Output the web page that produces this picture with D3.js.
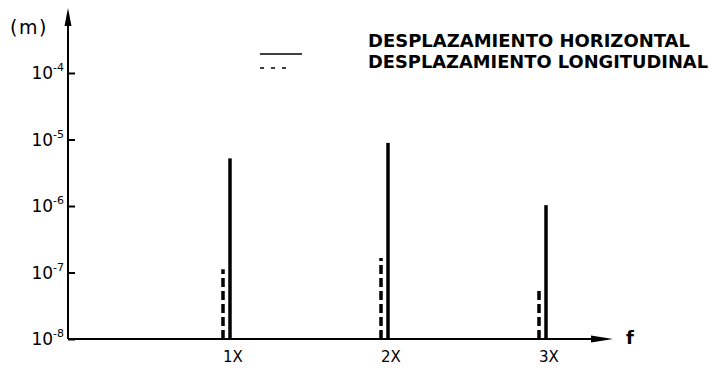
<!DOCTYPE html>
<html>
<head>
<meta charset="utf-8">
<script src="https://cdn.jsdelivr.net/npm/d3@7"></script>
<style>
  html, body { margin: 0; padding: 0; background: #fff; }
  svg { display: block; }
  text { font-family: "DejaVu Sans", "Liberation Sans", sans-serif; fill: #000; }
</style>
</head>
<body>
<svg id="chart" width="714" height="371"></svg>
<script>
// ---- data ----
const categories = ["1X", "2X", "3X"];
const harmonics = [1, 2, 3];
const horizontal = [5.2e-6, 8.9e-6, 1.03e-6];     // solid
const longitudinal = [1.12e-7, 1.65e-7, 5.5e-8];   // dashed
const tickValues = [1e-8, 1e-7, 1e-6, 1e-5, 1e-4];
const tickExponents = ["-8", "-7", "-6", "-5", "-4"];
const legendLabels = ["DESPLAZAMIENTO HORIZONTAL", "DESPLAZAMIENTO LONGITUDINAL"];
const yUnit = "(m)";
const xUnit = "f";

// ---- layout ----
const svg = d3.select("#chart");
const axisX0 = 68, axisXEnd = 613, axisYTop = 8;
const y = d3.scaleLog().domain([1e-8, 1e-4]).range([339, 73]);
const x = d3.scaleLinear().domain([0, 3]).range([72, 546]);
const y0 = y(1e-8);

// axes lines
svg.append("line").attr("x1", axisX0).attr("x2", axisX0)
  .attr("y1", y0).attr("y2", axisYTop + 10)
  .attr("stroke", "#000").attr("stroke-width", 2);
svg.append("path")
  .attr("d", `M${axisX0},${axisYTop} L${axisX0 - 3.5},${axisYTop + 18} L${axisX0 + 3.5},${axisYTop + 18} Z`)
  .attr("fill", "#000");
svg.append("line").attr("x1", axisX0).attr("x2", axisXEnd - 18)
  .attr("y1", y0).attr("y2", y0)
  .attr("stroke", "#000").attr("stroke-width", 2);
svg.append("path")
  .attr("d", `M${axisXEnd},${y0} L${axisXEnd - 22},${y0 - 3.5} L${axisXEnd - 22},${y0 + 3.5} Z`)
  .attr("fill", "#000");

// y ticks (inward)
const yAxis = d3.axisRight(y).tickValues(tickValues).tickSize(7).tickFormat("");
const gy = svg.append("g").attr("transform", `translate(${axisX0},0)`).call(yAxis);
gy.select(".domain").remove();
gy.selectAll(".tick line").attr("stroke", "#000").attr("stroke-width", 2);

// y tick labels with superscripts
tickValues.forEach((v, i) => {
  const t = svg.append("text")
    .attr("x", 64).attr("y", y(v) + 6)
    .attr("text-anchor", "end")
    .attr("font-size", 17);
  t.append("tspan").text("10");
  t.append("tspan").attr("font-size", 11).attr("dy", -8).text(tickExponents[i]);
});

// unit labels
svg.append("text").attr("x", 10).attr("y", 34).attr("font-size", 19)
  .attr("letter-spacing", 1.5).text(yUnit);
svg.append("text").attr("x", 626).attr("y", 344).attr("font-size", 18)
  .attr("font-weight", "bold").text(xUnit);

// category labels
svg.selectAll(".cat").data(categories).enter().append("text")
  .attr("class", "cat")
  .attr("x", (d, i) => x(harmonics[i]) + 3)
  .attr("y", 362)
  .attr("text-anchor", "middle")
  .attr("font-size", 15)
  .text(d => d);

// longitudinal (dashed) lines
svg.selectAll(".long").data(longitudinal).enter().append("line")
  .attr("class", "long")
  .attr("x1", (d, i) => x(harmonics[i]) - 7)
  .attr("x2", (d, i) => x(harmonics[i]) - 7)
  .attr("y1", y0).attr("y2", d => y(d))
  .attr("stroke", "#000").attr("stroke-width", 3.5)
  .attr("stroke-dasharray", "9,4");

// horizontal (solid) lines
svg.selectAll(".hor").data(horizontal).enter().append("line")
  .attr("class", "hor")
  .attr("x1", (d, i) => x(harmonics[i]))
  .attr("x2", (d, i) => x(harmonics[i]))
  .attr("y1", y0).attr("y2", d => y(d))
  .attr("stroke", "#000").attr("stroke-width", 3.5);

// legend
svg.append("line").attr("x1", 260).attr("x2", 302).attr("y1", 54).attr("y2", 54)
  .attr("stroke", "#000").attr("stroke-width", 1.5);
svg.append("line").attr("x1", 260).attr("x2", 286).attr("y1", 68).attr("y2", 68)
  .attr("stroke", "#000").attr("stroke-width", 1.5).attr("stroke-dasharray", "4,7");
const legendWidths = [322, 340];
const legendBase = [47, 68];
legendLabels.forEach((l, i) => {
  svg.append("text").attr("x", 368).attr("y", legendBase[i])
    .attr("font-family", "Liberation Sans, Arial, sans-serif")
    .attr("font-weight", "bold").attr("font-size", 17)
    .attr("textLength", legendWidths[i]).attr("lengthAdjust", "spacingAndGlyphs")
    .text(l);
});
</script>
</body>
</html>
